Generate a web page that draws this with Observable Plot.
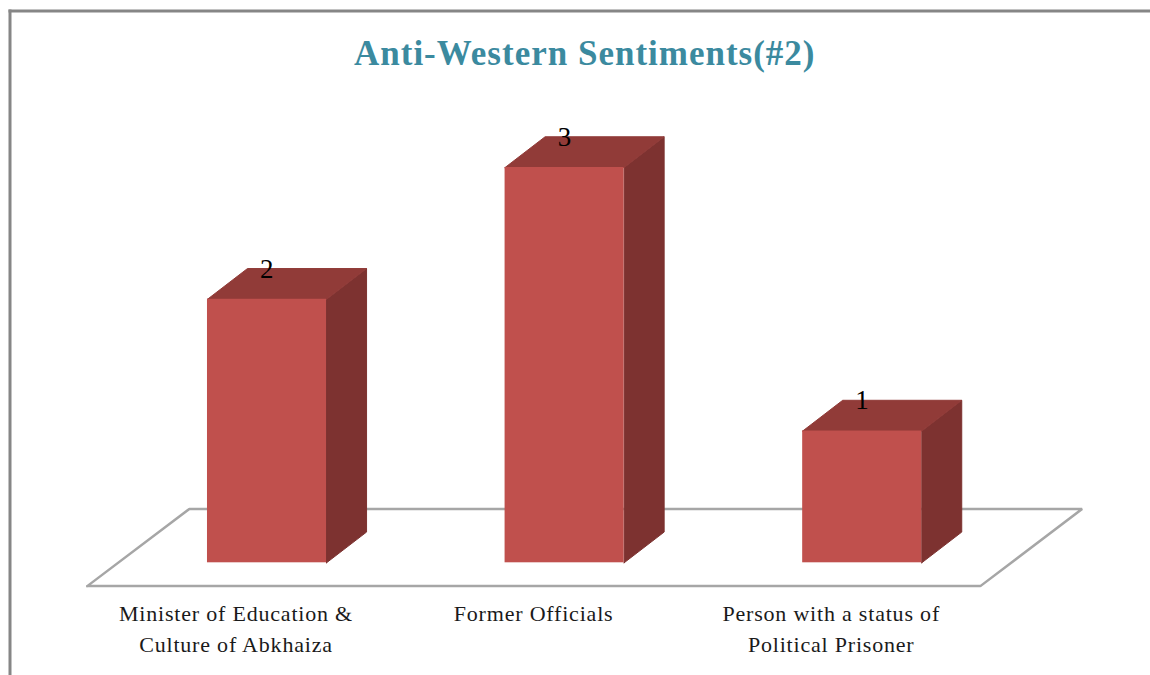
<!DOCTYPE html>
<html>
<head>
<meta charset="utf-8">
<script src="https://cdn.jsdelivr.net/npm/d3@7"></script>
<script src="https://cdn.jsdelivr.net/npm/@observablehq/plot@0.6"></script>
<style>
  html, body { margin: 0; padding: 0; background: #fff; }
  svg { display: block; }
  .title-text { letter-spacing: 1px; }
  .cat-text { letter-spacing: 0.8px; }
</style>
</head>
<body>
<div id="chart"></div>
<script>
const chartTitle = "Anti-Western Sentiments(#2)";
const categories = [
  "Minister of Education &\nCulture of Abkhaiza",
  "Former Officials",
  "Person with a status of\nPolitical Prisoner"
];
const values = [2, 3, 1];

// Perspective in data units
const halfBar = 0.2;
const depthX = 0.1345;
const depthY = 0.2333;
const floorPts = [
  [-0.604, -0.177], [2.397, -0.177], [2.739, 0.409], [-0.261, 0.409], [-0.604, -0.177]
];

const bars = values.map((v, i) => ({i, v}));
const sideFaces = bars.flatMap(({i, v}) => [
  [i + halfBar, 0], [i + halfBar + depthX, depthY],
  [i + halfBar + depthX, v + depthY], [i + halfBar, v], [i + halfBar, 0]
].map(([x, y]) => ({x, y, z: i})));
const topFaces = bars.flatMap(({i, v}) => [
  [i - halfBar, v], [i + halfBar, v],
  [i + halfBar + depthX, v + depthY], [i - halfBar + depthX, v + depthY], [i - halfBar, v]
].map(([x, y]) => ({x, y, z: i})));

const plot = Plot.plot({
  width: 1150,
  height: 675,
  marginLeft: 9.5,
  marginTop: 10.5,
  marginRight: 0,
  marginBottom: 0,
  style: {fontFamily: "'Liberation Serif', serif", background: "#fff", overflow: "visible"},
  x: {type: "linear", domain: [0, 2], range: [266.5, 861.7], axis: null},
  y: {type: "linear", domain: [0, 3], range: [562.3, 167], axis: null},
  marks: [
    Plot.frame({anchor: "left", stroke: "#868686", strokeWidth: 3, strokeOpacity: 1}),
    Plot.frame({anchor: "top", stroke: "#868686", strokeWidth: 3, strokeOpacity: 1}),
    Plot.line(floorPts, {x: d => d[0], y: d => d[1], stroke: "#a6a6a6", strokeWidth: 2.5, fill: "#fff", curve: "linear", strokeLinejoin: "miter"}),
    Plot.line(sideFaces, {x: "x", y: "y", z: "z", fill: "#7d3230", stroke: "#7d3230", strokeWidth: 1}),
    Plot.line(topFaces, {x: "x", y: "y", z: "z", fill: "#913b38", stroke: "#913b38", strokeWidth: 1}),
    Plot.rect(bars, {x1: d => d.i - halfBar, x2: d => d.i + halfBar, y1: 0, y2: "v", fill: "#c0504d"}),
    Plot.text(bars, {x: "i", y: d => d.v + depthY, text: "v", fontSize: 27, fill: "#000", dx: -0.2, dy: 0.5}),
    Plot.text(categories, {x: (d, i) => i, y: -0.277, text: d => d, fontSize: 22, lineHeight: 1.41, lineAnchor: "top", dx: -31, fill: "#1a1a1a", className: "cat-text"}),
    Plot.text([chartTitle], {frameAnchor: "top", text: d => d, fontSize: 35, fontWeight: "bold", fill: "#3b8a9f", dx: 4.5, dy: 29, className: "title-text"})
  ]
});
document.getElementById("chart").appendChild(plot);
</script>
</body>
</html>
